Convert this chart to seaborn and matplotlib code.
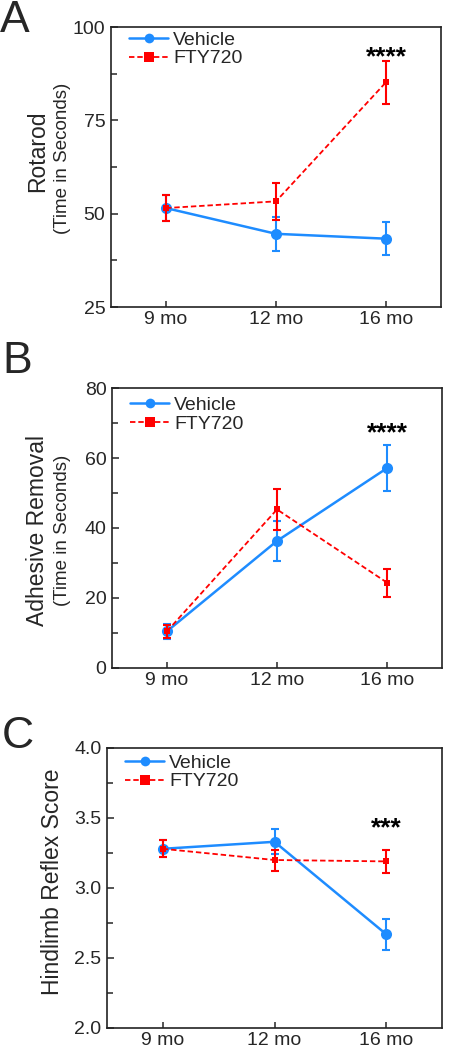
import numpy as np
import pandas as pd
import matplotlib.pyplot as plt
import seaborn as sns
from matplotlib.lines import Line2D
from matplotlib.ticker import MultipleLocator, NullLocator, FormatStrFormatter

# Data (means and SEM)
ages = ['9 mo', '12 mo', '16 mo']
groups = ['Vehicle', 'FTY720']

rotarod_vehicle = [51.5, 44.6, 43.3]
rotarod_vehicle_sem = [3.5, 4.5, 4.5]
rotarod_fty = [51.5, 53.3, 85.2]
rotarod_fty_sem = [3.5, 5.0, 5.8]

adhesive_vehicle = [10.5, 36.3, 57.1]
adhesive_vehicle_sem = [2.2, 5.8, 6.6]
adhesive_fty = [10.5, 45.3, 24.4]
adhesive_fty_sem = [1.8, 5.9, 4.0]

hindlimb_vehicle = [3.28, 3.33, 2.67]
hindlimb_vehicle_sem = [0.06, 0.09, 0.11]
hindlimb_fty = [3.28, 3.20, 3.19]
hindlimb_fty_sem = [0.06, 0.075, 0.085]

BLUE = '#1E8CFF'
RED = '#FF0000'

sns.set_style('ticks')
plt.rcParams['font.family'] = ['Liberation Sans', 'DejaVu Sans']


def draw_panel(ax, vehicle, vehicle_sem, fty, fty_sem, ylim, major, minor, stars, star_y,
               legend_y=0.978, fmt=None):
    df = pd.DataFrame({
        'age': ages * 2,
        'group': [groups[0]] * 3 + [groups[1]] * 3,
        'mean': vehicle + fty,
        'sem': vehicle_sem + fty_sem,
    })
    pos = np.arange(len(ages))

    # Vehicle
    sub = df[df['group'] == 'Vehicle']
    sns.lineplot(data=sub, x='age', y='mean', ax=ax, color=BLUE, marker='o',
                 markersize=8, markeredgewidth=0, linewidth=1.8, legend=False, sort=False)
    ax.errorbar(pos, sub['mean'], yerr=sub['sem'], fmt='none', ecolor=BLUE,
                elinewidth=1.5, capsize=3, capthick=1.5)

    # FTY720
    sub = df[df['group'] == 'FTY720']
    sns.lineplot(data=sub, x='age', y='mean', ax=ax, color=RED, marker='s',
                 markersize=3.8, markeredgewidth=0, linewidth=1.3, linestyle='--',
                 legend=False, sort=False)
    ax.lines[-1].set_dashes([3, 1.6])
    ax.errorbar(pos, sub['mean'], yerr=sub['sem'], fmt='none', ecolor=RED,
                elinewidth=1.5, capsize=2.7, capthick=1.5)

    ax.set_xlim(-0.5, 2.5)
    ax.set_ylim(*ylim)
    ax.yaxis.set_major_locator(MultipleLocator(major))
    ax.yaxis.set_minor_locator(MultipleLocator(minor))
    ax.xaxis.set_minor_locator(NullLocator())
    if fmt:
        ax.yaxis.set_major_formatter(FormatStrFormatter(fmt))
    ax.set_xlabel('')
    ax.set_ylabel('')
    ax.tick_params(axis='both', which='both', direction='in', labelsize=14, width=1.1)
    ax.tick_params(axis='y', which='major', length=5, pad=4)
    ax.tick_params(axis='y', which='minor', length=4)
    ax.tick_params(axis='x', which='major', length=4, pad=3)
    for sp in ax.spines.values():
        sp.set_visible(True)
        sp.set_linewidth(1.2)
        sp.set_color('#222222')

    handles = [
        Line2D([], [], color=BLUE, marker='o', markersize=7, markeredgewidth=0, linewidth=1.8),
        Line2D([], [], color=RED, marker='s', markersize=6.5, markeredgewidth=0, linewidth=1.3,
               linestyle=(0, (3, 1.6))),
    ]
    ax.legend(handles, groups, loc='upper left', bbox_to_anchor=(0.055, legend_y), frameon=False,
              fontsize=14, handlelength=2.0, handletextpad=0.25, labelspacing=0.05,
              borderpad=0, borderaxespad=0)

    ax.text(2, star_y, stars, ha='center', va='baseline', fontsize=19, fontweight='bold',
            color='black')


W, H = 453, 1050
fig = plt.figure(figsize=(W / 100, H / 100), dpi=100)


def add_axes(left, top, right, bottom):
    return fig.add_axes([left / W, 1 - bottom / H, (right - left) / W, (bottom - top) / H])


ax_a = add_axes(111, 27, 441, 307)
ax_b = add_axes(112, 388, 442, 668)
ax_c = add_axes(107, 748, 442, 1028)

draw_panel(ax_a, rotarod_vehicle, rotarod_vehicle_sem, rotarod_fty, rotarod_fty_sem,
           (25, 100), 25, 12.5, '****', 90.0, legend_y=0.985)
draw_panel(ax_b, adhesive_vehicle, adhesive_vehicle_sem, adhesive_fty, adhesive_fty_sem,
           (0, 80), 20, 10, '****', 65.1, legend_y=0.97)
draw_panel(ax_c, hindlimb_vehicle, hindlimb_vehicle_sem, hindlimb_fty, hindlimb_fty_sem,
           (2.0, 4.0), 0.5, 0.25, '***', 3.378, legend_y=0.978, fmt='%.1f')

# Y axis labels
fig.text(38 / W, 1 - 151 / H, 'Rotarod', rotation=90, ha='center', va='center', fontsize=16.5)
fig.text(63 / W, 1 - 158 / H, '(Time in Seconds)', rotation=90, ha='center', va='center', fontsize=13.5)
fig.text(38 / W, 1 - 531 / H, 'Adhesive Removal', rotation=90, ha='center', va='center', fontsize=16.5)
fig.text(63 / W, 1 - 530 / H, '(Time in Seconds)', rotation=90, ha='center', va='center', fontsize=13.5)
fig.text(53 / W, 1 - 882 / H, 'Hindlimb Reflex Score', rotation=90, ha='center', va='center', fontsize=16.5)

# Panel letters
fig.text(0.0, 1 - 32 / H, 'A', ha='left', va='baseline', fontsize=32)
fig.text(0.005, 1 - 373 / H, 'B', ha='left', va='baseline', fontsize=32)
fig.text(0.003, 1 - 748 / H, 'C', ha='left', va='baseline', fontsize=32)

fig.savefig('out.png', dpi=100)
